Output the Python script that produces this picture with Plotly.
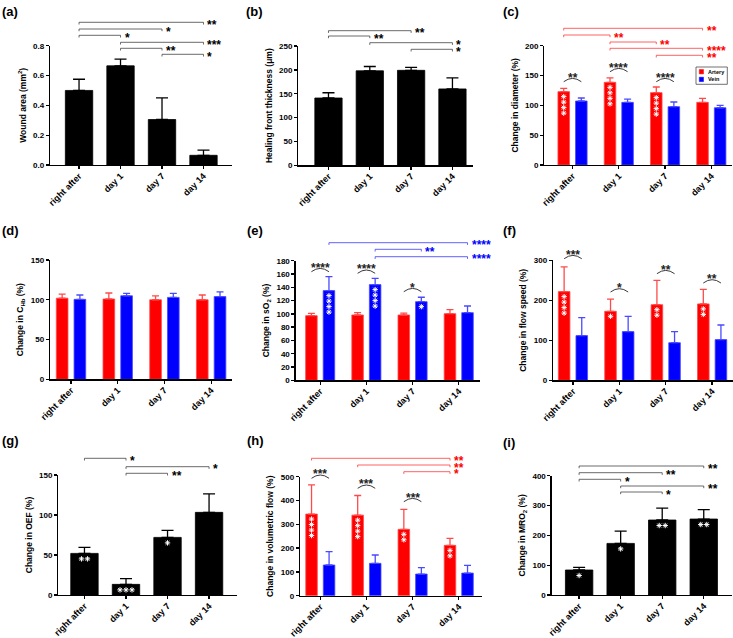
import plotly.graph_objects as go

W, H = 733, 638
FONT = "Arial, 'Liberation Sans', Helvetica, sans-serif"
RED = "#ff0000"
BLUE = "#0000ff"
BLACK = "#000000"

categories = ["right after", "day 1", "day 7", "day 14"]
positions = [0, 1, 2, 3]

# (a) wound area
wound_area = [0.50, 0.665, 0.305, 0.065]
wound_area_err = [0.075, 0.045, 0.145, 0.035]
# (b) healing front thickness
healing_front = [141, 198, 199, 160]
healing_front_err = [11, 9, 6, 23]
# (c) diameter
diam_artery = [123, 138.6, 121.3, 105]
diam_artery_err = [5.6, 7.3, 9.5, 6.8]
diam_vein = [107.3, 105, 97.8, 96]
diam_vein_err = [5, 5.6, 7.8, 4]
# (d) CHb
chb_artery = [102, 101, 100, 100]
chb_artery_err = [5, 7.5, 5, 6]
chb_vein = [100.5, 105, 103, 104]
chb_vein_err = [5.5, 3, 5, 6]
# (e) sO2
so2_artery = [97.3, 98.3, 98.3, 100.3]
so2_artery_err = [3.5, 3.5, 2.7, 6]
so2_vein = [135, 144, 118.4, 101.8]
so2_vein_err = [21, 9.5, 6.6, 10]
# (f) flow speed
speed_artery = [221.7, 172.5, 189, 191]
speed_artery_err = [62, 30.5, 61, 36.5]
speed_vein = [111.7, 121.7, 94, 101.7]
speed_vein_err = [45, 38.3, 27.7, 36.6]
# (g) OEF
oef = [52, 13.3, 72, 103.3]
oef_err = [7.6, 7.1, 8.8, 23]
# (h) volumetric flow
vflow_artery = [343, 338.5, 279, 211.5]
vflow_artery_err = [123, 82.5, 84, 29.5]
vflow_vein = [129, 136, 91, 95]
vflow_vein_err = [56, 35, 27, 32.5]
# (i) MRO2
mro2 = [83.8, 173, 251.4, 254.7]
mro2_err = [8.9, 41.5, 40.2, 31.3]

# significance comparisons (from, to, label)
sig_a = [(0, 3, "**"), (0, 2, "*"), (0, 1, "*"), (1, 3, "***"), (1, 2, "**"), (2, 3, "*")]
sig_b = [(0, 2, "**"), (0, 1, "**"), (1, 3, "*"), (2, 3, "*")]
sig_c = [(0, 3, "**"), (0, 1, "**"), (1, 2, "**"), (1, 3, "****"), (2, 3, "**")]
sig_e = [(0, 3, "****"), (1, 2, "**"), (1, 3, "****")]
sig_g = [(0, 1, "*"), (1, 3, "*"), (1, 2, "**")]
sig_h = [(0, 3, "**"), (1, 3, "**"), (2, 3, "*")]
sig_i = [(0, 3, "**"), (0, 2, "**"), (0, 1, "*"), (1, 3, "**"), (1, 2, "*")]
# artery vs vein comparisons (group, label)
pair_c = [(0, "**"), (1, "****"), (2, "****")]
pair_e = [(0, "****"), (1, "****"), (2, "*")]
pair_f = [(0, "***"), (1, "*"), (2, "**"), (3, "**")]
pair_h = [(0, "***"), (1, "***"), (2, "***")]
# in-bar marks vs. baseline (count per bar)
inbar_c = [4, 4, 4, 0]
inbar_e = [4, 4, 1, 0]
inbar_f = [4, 1, 2, 2]
inbar_h = [4, 4, 2, 2]
inbar_g = [2, 3, 1, 0]
inbar_i = [1, 1, 2, 2]

OFF = 0.19   # half distance between artery / vein bars (category units)
GW = 0.25    # grouped bar width
SW = 0.66    # single bar width

def single(vals, err):
    return [dict(y=vals, err=err, color=BLACK, line=BLACK, off=None, width=SW)]

def grouped(art, art_err, vein, vein_err):
    return [dict(y=art, err=art_err, color=RED, line="#ff4a4a", off=-OFF, width=GW),
            dict(y=vein, err=vein_err, color=BLUE, line="#4a4aff", off=OFF, width=GW)]

panels = [
    dict(lab="(a)", lab_px=(0, 2), title="Wound area (mm<sup>2</sup>)", box=(50, 231.7, 45.7, 165),
         xr=(-0.70, 3.68), yr=(0, 0.8), dtick=0.2, fmt=".1f", series=single(wound_area, wound_area_err),
         sig=sig_a, sig_px=[22.3, 29, 35.3, 42.3, 48.3, 54.3], sig_color=BLACK, sig_off=0.0,
         inbar=None),
    dict(lab="(b)", lab_px=(244, 2), title="Healing front thickness (μm)", box=(298.3, 472.7, 46, 165.3),
         xr=(-0.73, 3.49), yr=(0, 250), dtick=50, fmt="", series=single(healing_front, healing_front_err),
         sig=sig_b, sig_px=[30.7, 36, 42.7, 49.3], sig_color=BLACK, sig_off=0.0, inbar=None),
    dict(lab="(c)", lab_px=(501, 2), title="Change in diameter (%)", box=(544.3, 731.7, 45.7, 165),
         xr=(-0.61, 3.44), yr=(0, 200), dtick=50, fmt="",
         series=grouped(diam_artery, diam_artery_err, diam_vein, diam_vein_err),
         sig=sig_c, sig_px=[28.3, 35, 42, 48.3, 55.3], sig_color=RED, sig_off=-OFF,
         pairs=pair_c, pair_px=[81.7, 71.7, 81.7], inbar=(0, inbar_c, "v")),
    dict(lab="(d)", lab_px=(0, 221), title="Change in C<sub>Hb</sub> (%)", box=(50, 231.7, 260, 379.3),
         xr=(-0.45, 3.44), yr=(0, 150), dtick=50, fmt="",
         series=grouped(chb_artery, chb_artery_err, chb_vein, chb_vein_err), inbar=None),
    dict(lab="(e)", lab_px=(245, 221), title="Change in sO<sub>2</sub> (%)", box=(295.7, 480, 260.7, 380.3),
         xr=(-0.53, 3.46), yr=(0, 180), dtick=20, fmt="",
         series=grouped(so2_artery, so2_artery_err, so2_vein, so2_vein_err),
         sig=sig_e, sig_px=[242.7, 249.3, 256.7], sig_color=BLUE, sig_off=OFF,
         pairs=pair_e, pair_px=[271.7, 273.3, 291.7], inbar=(1, inbar_e, "v")),
    dict(lab="(f)", lab_px=(501, 221), title="Change in flow speed (%)", box=(553, 733, 260.3, 380.3),
         xr=(-0.43, 3.45), yr=(0, 300), dtick=100, fmt="",
         series=grouped(speed_artery, speed_artery_err, speed_vein, speed_vein_err),
         pairs=pair_f, pair_px=[258.7, 292, 273.7, 283], inbar=(0, inbar_f, "v")),
    dict(lab="(g)", lab_px=(0, 431), title="Change in OEF (%)", box=(58.3, 237.3, 475, 595),
         xr=(-0.63, 3.68), yr=(0, 150), dtick=50, fmt="", series=single(oef, oef_err),
         sig=sig_g, sig_px=[458.3, 466.7, 473.3], sig_color=BLACK, sig_off=0.0, inbar=(0, inbar_g, "h")),
    dict(lab="(h)", lab_px=(245, 431), title="Change in volumetric flow (%)", box=(300, 482.3, 476.7, 595.7),
         xr=(-0.44, 3.51), yr=(0, 500), dtick=100, fmt="",
         series=grouped(vflow_artery, vflow_artery_err, vflow_vein, vflow_vein_err),
         sig=sig_h, sig_px=[458.3, 465, 471.7], sig_color=RED, sig_off=-OFF,
         pairs=pair_h, pair_px=[478.3, 488.3, 501.7], inbar=(0, inbar_h, "v")),
    dict(lab="(i)", lab_px=(501, 433), title="Change in MRO<sub>2</sub> (%)", box=(551.7, 732, 475.7, 595),
         xr=(-0.66, 3.68), yr=(0, 400), dtick=100, fmt="", series=single(mro2, mro2_err),
         sig=sig_i, sig_px=[466, 472.7, 479.3, 486, 492], sig_color=BLACK, sig_off=0.0, inbar=(0, inbar_i, "h")),
]

fig = go.Figure()
shapes = []
annotations = []
layout = {}

STAR_FONT = dict(family=FONT, size=12, weight="bold")
STAR_SHIFT = -2.6

for k, p in enumerate(panels, start=1):
    sfx = "" if k == 1 else str(k)
    xref, yref = "x" + sfx, "y" + sfx
    x0, x1, yt, yb = p["box"]
    hpx, wpx = yb - yt, x1 - x0
    upy = (p["yr"][1] - p["yr"][0]) / hpx   # data units per px (y)
    upx = (p["xr"][1] - p["xr"][0]) / wpx   # data units per px (x)

    def fy(py):
        return (yb - py) / hpx

    axis_common = dict(showline=True, linecolor=BLACK, linewidth=1.3, ticks="outside", ticklen=3,
                       tickwidth=1.3, tickcolor=BLACK, showgrid=False, zeroline=False, fixedrange=True,
                       automargin=False)
    layout["xaxis" + sfx] = dict(axis_common, domain=[x0 / W, x1 / W], range=list(p["xr"]), anchor=yref,
                                 tickmode="array", tickvals=positions, ticktext=categories, tickangle=-45,
                                 ticklabelstandoff=-2,
                                 tickfont=dict(family=FONT, size=9, color=BLACK, weight="bold"))
    layout["yaxis" + sfx] = dict(axis_common, domain=[1 - yb / H, 1 - yt / H], range=list(p["yr"]),
                                 anchor=xref, tick0=0, dtick=p["dtick"], tickformat=p["fmt"],
                                 tickfont=dict(family=FONT, size=8, color=BLACK, weight="bold"),
                                 title=dict(text=p["title"], standoff=5,
                                            font=dict(family=FONT, size=8.5, color=BLACK, weight="bold")))

    for s in p["series"]:
        kw = dict(width=s["width"])
        if s["off"] is not None:
            kw["offset"] = s["off"] - s["width"] / 2
        fig.add_trace(go.Bar(
            x=positions, y=s["y"], xaxis=xref, yaxis=yref, showlegend=False,
            marker=dict(color=s["color"], line=dict(color=s["line"], width=0.8)),
            error_y=dict(type="data", symmetric=False, array=s["err"], arrayminus=[0] * 4,
                         color=s["line"] if s["color"] != BLACK else BLACK, thickness=1.3,
                         width=6 if s["off"] is None else 3.5),
            hoverinfo="skip", **kw))

    # horizontal comparison brackets
    if p.get("sig"):
        col = p["sig_color"]
        lcol = {BLACK: "#444444", RED: "#ff3a3a", BLUE: "#3a3aff"}[col]
        tk = 2.2 / hpx
        for (i0, i1, lab), py in zip(p["sig"], p["sig_px"]):
            xa, xb, f = i0 + p["sig_off"], i1 + p["sig_off"], fy(py)
            ln = dict(color=lcol, width=0.8)
            shapes.append(dict(type="line", xref=xref, yref=yref + " domain", x0=xa, x1=xb, y0=f, y1=f, line=ln))
            shapes.append(dict(type="line", xref=xref, yref=yref + " domain", x0=xa, x1=xa, y0=f, y1=f - tk, line=ln))
            shapes.append(dict(type="line", xref=xref, yref=yref + " domain", x0=xb, x1=xb, y0=f, y1=f - tk, line=ln))
            annotations.append(dict(x=xb, y=f, xref=xref, yref=yref + " domain", text=lab, showarrow=False,
                                    xanchor="left", yanchor="middle", xshift=2, yshift=STAR_SHIFT,
                                    font=dict(STAR_FONT, color=col)))

    # artery vs vein arcs
    if p.get("pairs"):
        for (g, lab), py in zip(p["pairs"], p["pair_px"]):
            f = fy(py)
            hh = 3.3 / hpx
            xa, xb = g - OFF, g + OFF
            shapes.append(dict(type="path", xref=xref, yref=yref + " domain",
                               path=f"M{xa},{f} Q{g},{f + 2 * hh} {xb},{f}",
                               line=dict(color="#222222", width=0.9)))
            annotations.append(dict(x=g, y=f + 6.5 / hpx, xref=xref, yref=yref + " domain", text=lab,
                                    showarrow=False, xanchor="center", yanchor="middle", yshift=STAR_SHIFT,
                                    font=dict(STAR_FONT, color="#222222")))

    # white marks inside bars
    if p.get("inbar"):
        si, counts, orient = p["inbar"]
        s = p["series"][si]
        off = s["off"] or 0.0
        xs, ys = [], []
        for i, (v, n) in enumerate(zip(s["y"], counts)):
            for j in range(n):
                if orient == "v":
                    xs.append(i + off)
                    ys.append(v - (5 + 5.5 * j) * upy)
                else:
                    xs.append(i + off + (j - (n - 1) / 2) * 6 * upx)
                    ys.append(v - 5.5 * upy)
        fig.add_trace(go.Scatter(x=xs, y=ys, xaxis=xref, yaxis=yref, mode="markers", showlegend=False,
                                 hoverinfo="skip", cliponaxis=False,
                                 marker=dict(symbol="asterisk-open", size=4.5, color="white",
                                             line=dict(color="white", width=1))))

    # panel label
    lx, ly = p["lab_px"]
    annotations.append(dict(x=lx / W, y=1 - ly / H, xref="paper", yref="paper", text=p["lab"],
                            showarrow=False, xanchor="left", yanchor="top",
                            font=dict(family=FONT, size=13, color=BLACK, weight="bold")))

# legend for panel (c)
def px(xp, yp):
    return xp / W, 1 - yp / H

bx0, by0 = px(696, 67)
bx1, by1 = px(727.3, 84.3)
shapes.append(dict(type="rect", xref="paper", yref="paper", x0=bx0, x1=bx1, y0=by1, y1=by0,
                   line=dict(color="#333333", width=0.7), fillcolor="white"))
for name, col, yc in [("Artery", RED, 71.7), ("Vein", BLUE, 79.4)]:
    sx0, sy0 = px(699.3, yc - 2.2)
    sx1, sy1 = px(703.5, yc + 2.2)
    shapes.append(dict(type="rect", xref="paper", yref="paper", x0=sx0, x1=sx1, y0=sy1, y1=sy0,
                       line=dict(color=col, width=0.5), fillcolor=col))
    tx, ty = px(705.5, yc)
    annotations.append(dict(x=tx, y=ty, xref="paper", yref="paper", text=name, showarrow=False,
                            xanchor="left", yanchor="middle",
                            font=dict(family=FONT, size=5.5, color=BLACK, weight="bold")))

fig.update_layout(
    width=W, height=H, margin=dict(l=0, r=0, t=0, b=0, pad=0, autoexpand=False),
    paper_bgcolor="white", plot_bgcolor="white", barmode="overlay",
    showlegend=False, shapes=shapes, annotations=annotations,
    font=dict(family=FONT, color=BLACK), **layout)

fig.write_html("out.html", config={"displayModeBar": False, "staticPlot": True},
               post_script="document.body.style.margin='0';document.body.style.overflow='hidden';")
